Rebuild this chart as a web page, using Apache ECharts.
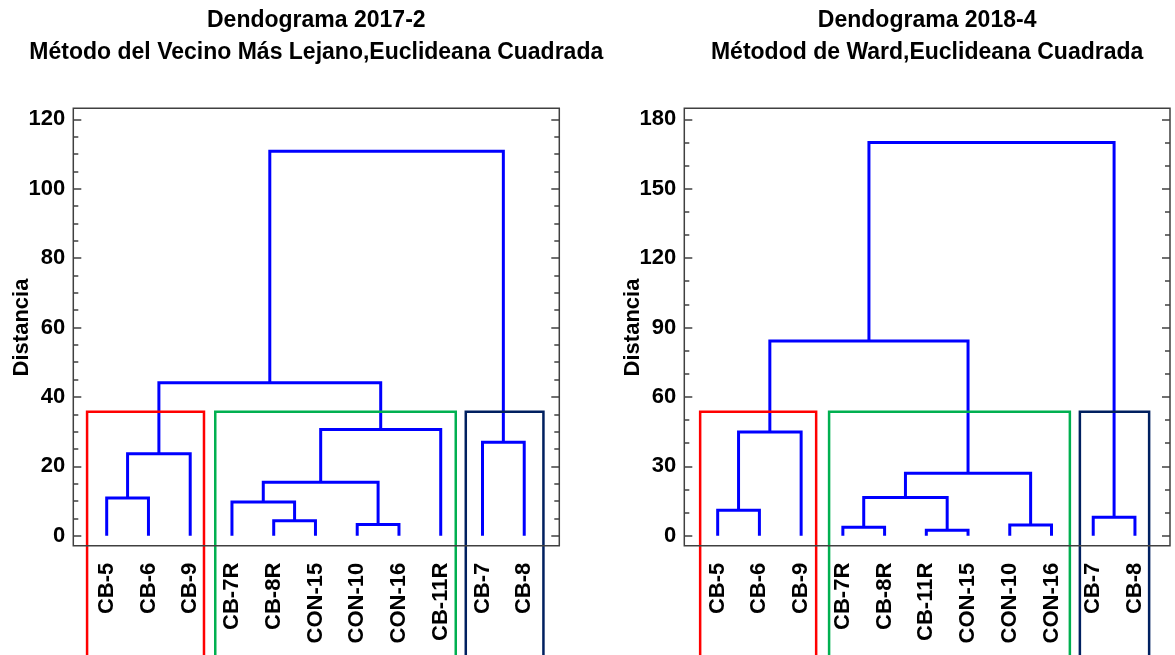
<!DOCTYPE html>
<html><head><meta charset="utf-8">
<script src="https://cdn.jsdelivr.net/npm/echarts@6/dist/echarts.min.js"></script>
<style>html,body{margin:0;padding:0;background:#fff}#c{width:1175px;height:655px}</style>
</head><body><div id="c"></div>
<script>
// ---------- DATA ----------
const title1 = ['Dendograma 2017-2', 'Método del Vecino Más Lejano,Euclideana Cuadrada'];
const title2 = ['Dendograma 2018-4', 'Métodod de Ward,Euclideana Cuadrada'];
const yName = 'Distancia';

const leaves1 = ['CB-5','CB-6','CB-9','CB-7R','CB-8R','CON-15','CON-10','CON-16','CB-11R','CB-7','CB-8'];
// merges: [childA, childB, height]; leaves are 0..10, new clusters numbered from 11
const merges1 = [
  [0, 1, 10.9],
  [4, 5, 4.3],
  [6, 7, 3.2],
  [3, 12, 9.7],
  [14, 13, 15.4],
  [11, 2, 23.6],
  [9, 10, 26.9],
  [15, 8, 30.6],
  [16, 18, 44.1],
  [19, 17, 110.8]
];
const groups1 = [[0, 2], [3, 8], [9, 10]];
const groupTop1 = 35.7;
const yTicks1 = [0, 120, 20, 4]; // min, max, interval, minor split

const leaves2 = ['CB-5','CB-6','CB-9','CB-7R','CB-8R','CB-11R','CON-15','CON-10','CON-16','CB-7','CB-8'];
const merges2 = [
  [0, 1, 11.0],
  [5, 6, 2.4],
  [3, 4, 3.6],
  [7, 8, 4.6],
  [9, 10, 8.0],
  [13, 12, 16.5],
  [16, 14, 27.0],
  [11, 2, 44.8],
  [18, 17, 84.2],
  [19, 15, 170.0]
];
const groups2 = [[0, 2], [3, 8], [9, 10]];
const groupTop2 = 53.6;
const yTicks2 = [0, 180, 30, 3];

// ---------- STYLE / LAYOUT ----------
const FONT = '"Liberation Sans", Arial, sans-serif';
const groupColors = ['#FF0000', '#00B050', '#002060'];
const boxPad1 = [[0.47, 0.33], [0.40, 0.36], [0.40, 0.46]];
const boxPad2 = [[0.42, 0.36], [0.33, 0.44], [0.32, 0.34]];
const frameTop = 108.3, frameBottom = 545.7, plotTop = 119.3, plotBottom = 535.7;
const charts = [
  {left: 73.3, right: 559.3, leaves: leaves1, merges: merges1, groups: groups1, top: groupTop1, pads: boxPad1, yt: yTicks1, title: title1, boxBottom: -45},
  {left: 684.3, right: 1170, leaves: leaves2, merges: merges2, groups: groups2, top: groupTop2, pads: boxPad2, yt: yTicks2, title: title2, boxBottom: -60}
];

const grid = [], xAxis = [], yAxis = [], series = [], graphic = [];
const tickColor = '#404040';

charts.forEach((c, k) => {
  const gOuter = grid.length;
  grid.push({left: c.left, top: frameTop, width: c.right - c.left, height: frameBottom - frameTop,
    show: true, borderColor: '#404040', borderWidth: 1.5, backgroundColor: 'transparent', z: 5});
  const gInner = grid.length;
  grid.push({left: c.left, top: plotTop, width: c.right - c.left, height: plotBottom - plotTop});

  xAxis.push({gridIndex: gOuter, type: 'value', show: false, min: 0, max: 1});
  yAxis.push({gridIndex: gOuter, type: 'value', show: false, min: 0, max: 1});

  const xi = xAxis.length;
  xAxis.push({gridIndex: gInner, type: 'value', min: -0.8, max: 10.84,
    axisLine: {show: false, onZero: false}, axisTick: {show: false}, splitLine: {show: false},
    axisLabel: {customValues: c.leaves.map((_, i) => i), rotate: 90, margin: 27,
      formatter: v => c.leaves[Math.round(v)] || '',
      fontFamily: FONT, fontWeight: 'bold', fontSize: 22, color: '#000'}});
  const [mn, mx, iv, ms] = c.yt;
  const yi = yAxis.length;
  const common = {gridIndex: gInner, type: 'value', min: mn, max: mx, interval: iv,
    axisLine: {show: false, onZero: false}, splitLine: {show: false},
    axisTick: {show: true, inside: true, length: 8, lineStyle: {color: tickColor, width: 1.5}},
    minorTick: {show: true, splitNumber: ms, length: 5, lineStyle: {color: tickColor, width: 1.5}},
    minorSplitLine: {show: false}};
  yAxis.push(Object.assign({}, common, {position: 'left',
    name: yName, nameLocation: 'middle', nameGap: 40, nameMoveOverlap: false,
    nameTextStyle: {fontFamily: FONT, fontWeight: 'bold', fontSize: 22, color: '#000'},
    axisLabel: {margin: 8, fontFamily: FONT, fontWeight: 'bold', fontSize: 22, color: '#000'}}));
  yAxis.push(Object.assign({}, common, {position: 'right', axisLabel: {show: false}}));

  // dendrogram links
  const pos = c.leaves.map((_, i) => ({x: i, h: 0}));
  c.merges.forEach(([a, b, h]) => {
    const A = pos[a], B = pos[b];
    series.push({type: 'line', xAxisIndex: xi, yAxisIndex: yi,
      data: [[A.x, A.h], [A.x, h], [B.x, h], [B.x, B.h]],
      symbol: 'none', silent: true, animation: false, z: 3,
      lineStyle: {color: '#0000FF', width: 3, join: 'miter'}});
    pos.push({x: (A.x + B.x) / 2, h: h});
  });
  // group boxes
  c.groups.forEach(([s, e], g) => {
    const l = s - c.pads[g][0], r = e + c.pads[g][1];
    series.push({type: 'line', xAxisIndex: xi, yAxisIndex: yi, clip: false,
      data: [[l, c.boxBottom], [l, c.top], [r, c.top], [r, c.boxBottom]],
      symbol: 'none', silent: true, animation: false, z: 4,
      lineStyle: {color: groupColors[g], width: 2.5, join: 'miter'}});
  });
  // titles
  const cx = (c.left + c.right) / 2;
  c.title.forEach((t, i) => {
    graphic.push({type: 'text', x: cx, y: 21 + i * 32, silent: true,
      style: {text: t, align: 'center', verticalAlign: 'middle', fill: '#000',
        font: 'bold 23px ' + FONT}});
  });
});

const chart = echarts.init(document.getElementById('c'), null, {renderer: 'canvas'});
chart.setOption({animation: false, backgroundColor: '#fff', grid, xAxis, yAxis, series, graphic});
</script>
</body></html>
